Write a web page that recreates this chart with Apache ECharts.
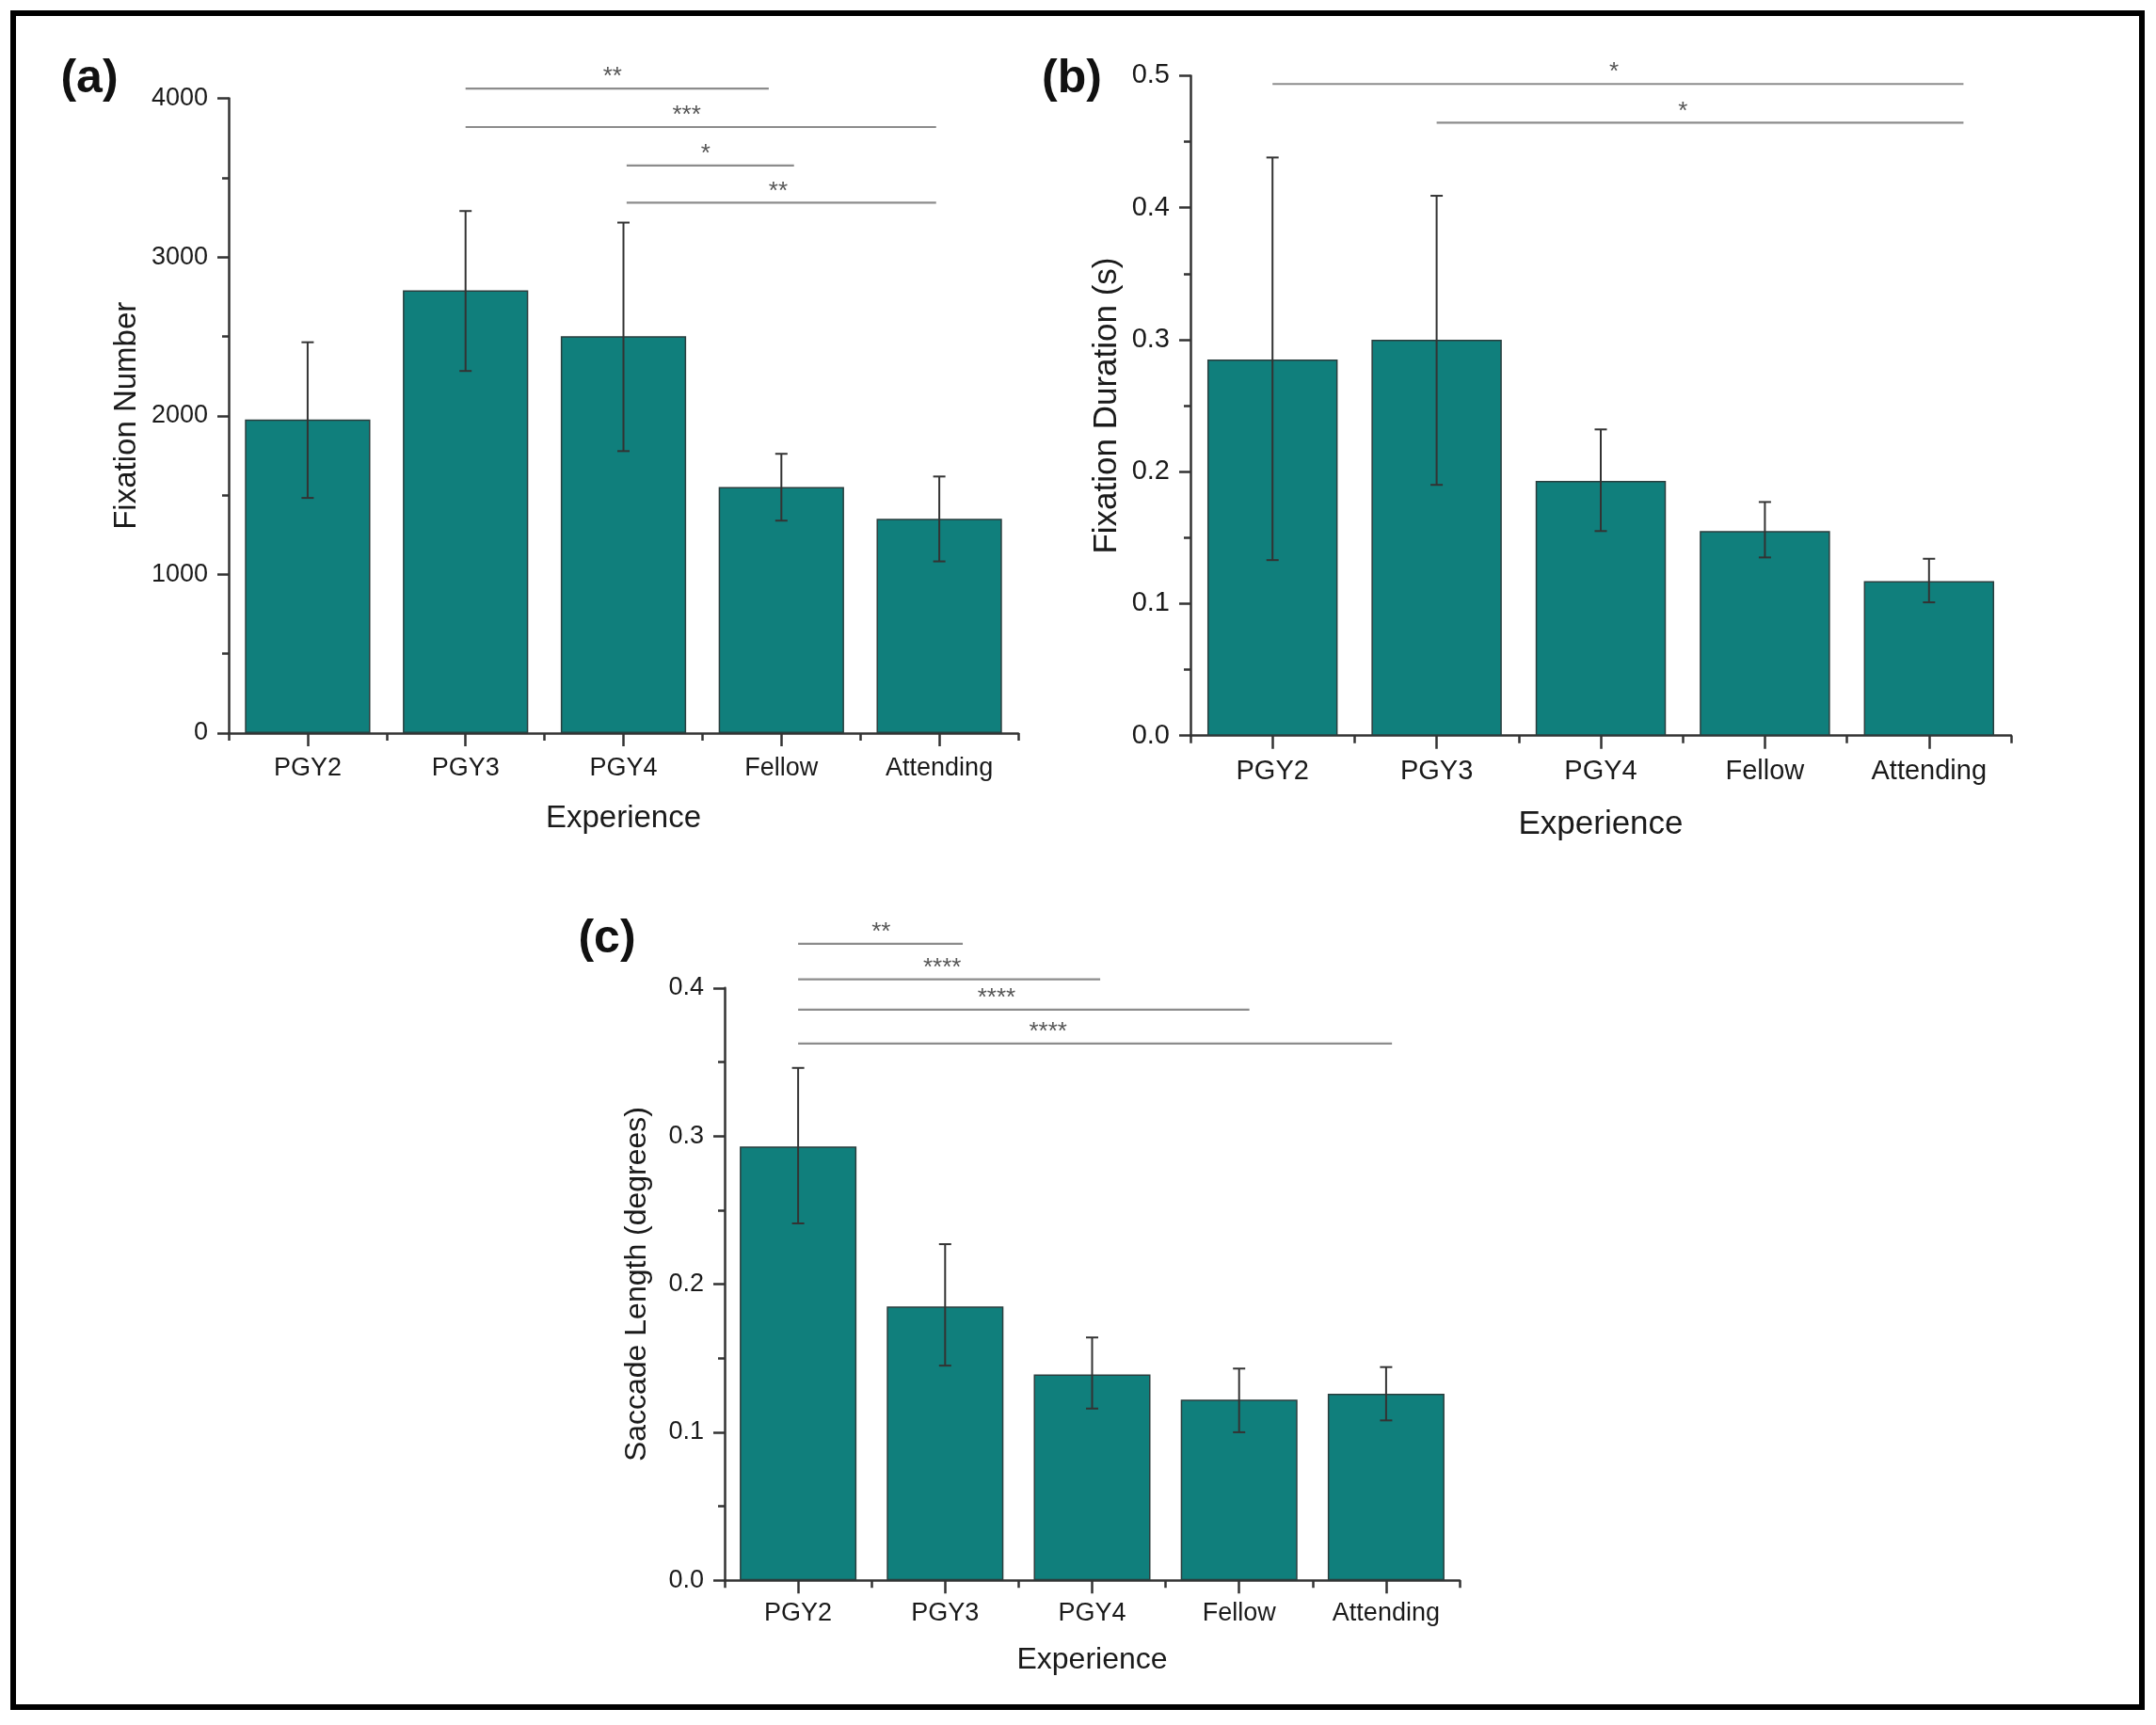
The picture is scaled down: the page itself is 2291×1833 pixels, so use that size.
<!DOCTYPE html>
<html>
<head>
<meta charset="utf-8">
<script src="https://cdn.jsdelivr.net/npm/echarts@6/dist/echarts.min.js"></script>
<style>
html,body{margin:0;padding:0;background:#fff;}
#chart{width:2291px;height:1833px;}
</style>
</head>
<body>
<div id="chart"></div>
<script>
// ---------- data ----------
const categories = ['PGY2', 'PGY3', 'PGY4', 'Fellow', 'Attending'];

const fixationNumber     = [1976, 2790, 2501, 1551, 1350];
const fixationNumberLow  = [1482, 2282, 1777, 1339, 1082];
const fixationNumberHigh = [2463, 3290, 3217, 1760, 1617];

const fixationDuration     = [0.285, 0.300, 0.193, 0.155, 0.117];
const fixationDurationLow  = [0.133, 0.190, 0.155, 0.135, 0.101];
const fixationDurationHigh = [0.438, 0.409, 0.232, 0.177, 0.134];

const saccadeLength     = [0.293, 0.185, 0.139, 0.122, 0.126];
const saccadeLengthLow  = [0.241, 0.145, 0.116, 0.100, 0.108];
const saccadeLengthHigh = [0.346, 0.227, 0.164, 0.143, 0.144];

// significance brackets: [fromCategory, toCategory, yValue, starPosition, label]
const sigA = [
  [1, 2.92, 4062, 1.93, '**'],
  [1, 3.98, 3819, 2.40, '***'],
  [2.02, 3.08, 3577, 2.52, '*'],
  [2.02, 3.98, 3342, 2.98, '**']
];
const sigB = [
  [0, 4.21, 0.4937, 2.08, '*'],
  [1, 4.21, 0.4644, 2.50, '*']
];
const sigC = [
  [0, 1.12, 0.4298, 0.565, '**'],
  [0, 2.055, 0.4058, 0.98, '****'],
  [0, 3.07, 0.3853, 1.35, '****'],
  [0, 4.04, 0.3624, 1.70, '****']
];

const yTicksA = {min: 0, max: 4000, interval: 1000};
const yTicksB = {min: 0, max: 0.5, interval: 0.1};
const yTicksC = {min: 0, max: 0.4, interval: 0.1};

// ---------- styling ----------
const FONT = '"Liberation Sans", Arial, sans-serif';
const AX = '#333';
const TXT = '#1a1a1a';
const BAR = '#107f7c';

const panels = [
  {grid: {left: 243, top: 104.5, width: 839, height: 674.5}, y: yTicksA, fmt: v => String(v),
   vals: fixationNumber, lo: fixationNumberLow, hi: fixationNumberHigh, sig: sigA,
   yName: 'Fixation Number', tick: 27, name: 33, xGap: 74, yGap: 92, xMargin: 24},
  {grid: {left: 1265, top: 80.4, width: 872, height: 701.3}, y: yTicksB, fmt: v => v.toFixed(1),
   vals: fixationDuration, lo: fixationDurationLow, hi: fixationDurationHigh, sig: sigB,
   yName: 'Fixation Duration (s)', tick: 29, name: 35, xGap: 77, yGap: 71, xMargin: 24},
  {grid: {left: 770, top: 1049.8, width: 781, height: 629.5}, y: yTicksC, fmt: v => v.toFixed(1),
   vals: saccadeLength, lo: saccadeLengthLow, hi: saccadeLengthHigh, sig: sigC,
   yName: 'Saccade Length (degrees)', tick: 27, name: 32, xGap: 69, yGap: 77, xMargin: 22}
];

const lineStyle = {color: AX, width: 2.5};

const grids = [], xAxes = [], yAxes = [], series = [];

function errRender(params, api) {
  const x = api.value(0);
  const pLo = api.coord([x, api.value(1)]);
  const pHi = api.coord([x, api.value(2)]);
  const hw = 6.5;
  const st = {stroke: '#333', lineWidth: 2};
  return {type: 'group', children: [
    {type: 'line', shape: {x1: pLo[0], y1: pLo[1], x2: pHi[0], y2: pHi[1]}, style: st},
    {type: 'line', shape: {x1: pLo[0] - hw, y1: pLo[1], x2: pLo[0] + hw, y2: pLo[1]}, style: st},
    {type: 'line', shape: {x1: pHi[0] - hw, y1: pHi[1], x2: pHi[0] + hw, y2: pHi[1]}, style: st}
  ]};
}

function sigRender(sig) {
  return function (params, api) {
    const s = sig[params.dataIndex];
    const a = api.coord([s[0], s[2]]);
    const b = api.coord([s[1], s[2]]);
    const c = api.coord([s[3], s[2]]);
    return {type: 'group', children: [
      {type: 'line', shape: {x1: a[0], y1: a[1], x2: b[0], y2: b[1]},
       style: {stroke: '#8c8c8c', lineWidth: 2.2}},
      {type: 'text', x: c[0], y: c[1] - 12,
       style: {text: s[4], fill: '#555', font: '26px ' + FONT, align: 'center', verticalAlign: 'middle'}}
    ]};
  };
}

panels.forEach((p, i) => {
  grids.push(Object.assign({containLabel: false}, p.grid));
  // main category axis (labels + centre ticks)
  xAxes.push({
    type: 'category', gridIndex: i, position: 'bottom', data: categories,
    axisLine: {show: true, onZero: false, lineStyle: lineStyle},
    axisTick: {show: true, alignWithLabel: true, length: 14, lineStyle: lineStyle},
    axisLabel: {fontSize: p.tick, color: TXT, fontFamily: FONT, margin: p.xMargin},
    splitLine: {show: false},
    name: 'Experience', nameLocation: 'middle', nameGap: p.xGap,
    nameTextStyle: {fontSize: p.name, color: TXT, fontFamily: FONT}
  });
  // boundary ticks
  xAxes.push({
    type: 'category', gridIndex: i, position: 'bottom', data: categories,
    axisLine: {show: false, onZero: false},
    axisTick: {show: true, alignWithLabel: false, length: 8, lineStyle: lineStyle},
    axisLabel: {show: false}, splitLine: {show: false}
  });
  // hidden numeric axis for bracket placement
  xAxes.push({type: 'value', gridIndex: i, position: 'top', min: -0.5, max: 4.5, show: false,
    axisLine: {onZero: false}});

  yAxes.push({
    type: 'value', gridIndex: i, position: 'left', min: p.y.min, max: p.y.max, interval: p.y.interval,
    axisLine: {show: true, onZero: false, lineStyle: lineStyle},
    axisTick: {show: true, length: 12, lineStyle: lineStyle},
    minorTick: {show: true, splitNumber: 2, length: 7, lineStyle: lineStyle},
    splitLine: {show: false}, minorSplitLine: {show: false},
    axisLabel: {fontSize: p.tick, color: TXT, fontFamily: FONT, margin: 22, formatter: p.fmt},
    name: p.yName, nameLocation: 'middle', nameGap: p.yGap,
    nameTextStyle: {fontSize: p.name, color: TXT, fontFamily: FONT}
  });

  series.push({
    type: 'bar', xAxisIndex: 3 * i, yAxisIndex: i, data: p.vals, barWidth: '79.4%',
    itemStyle: {color: BAR, borderColor: '#2b3e3e', borderWidth: 1.5}, z: 2, silent: true
  });
  series.push({
    type: 'custom', xAxisIndex: 3 * i, yAxisIndex: i, z: 3, silent: true,
    data: p.vals.map((v, k) => [k, p.lo[k], p.hi[k]]),
    encode: {x: 0, y: [1, 2]},
    renderItem: errRender
  });
  series.push({
    type: 'custom', xAxisIndex: 3 * i + 2, yAxisIndex: i, z: 3, silent: true, clip: false,
    data: p.sig.map(s => [s[0], s[2], s[1], s[3]]),
    encode: {x: [0, 2, 3], y: 1},
    renderItem: sigRender(p.sig)
  });
});

const chart = echarts.init(document.getElementById('chart'), null, {renderer: 'canvas'});
chart.setOption({
  backgroundColor: '#ffffff',
  animation: false,
  grid: grids,
  xAxis: xAxes,
  yAxis: yAxes,
  series: series,
  graphic: [
    {type: 'rect', shape: {x: 14, y: 14, width: 2262, height: 1800},
     style: {fill: 'none', stroke: '#000', lineWidth: 6}, silent: true},
    {type: 'text', x: 95, y: 84, style: {text: '(a)', font: 'bold 50px ' + FONT, fill: '#111', align: 'center', verticalAlign: 'middle'}},
    {type: 'text', x: 1139, y: 84, style: {text: '(b)', font: 'bold 50px ' + FONT, fill: '#111', align: 'center', verticalAlign: 'middle'}},
    {type: 'text', x: 645, y: 998, style: {text: '(c)', font: 'bold 50px ' + FONT, fill: '#111', align: 'center', verticalAlign: 'middle'}}
  ]
});
</script>
</body>
</html>
